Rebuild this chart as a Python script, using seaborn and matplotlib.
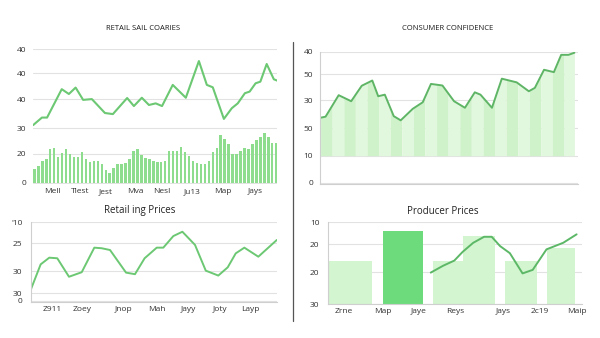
import numpy as np
import matplotlib
matplotlib.use("Agg")
import matplotlib.pyplot as plt
import seaborn as sns

# ---------------- data ----------------
# Panel 1: Retail sail coaries
p1_bars = [5.1, 6.5, 8.2, 9.0, 12.7, 13.2, 9.6, 11.1, 12.7, 10.7, 9.5, 9.6, 11.6, 9.1, 8.0, 8.3,
           8.2, 7.0, 4.9, 3.6, 5.7, 7.0, 7.1, 7.5, 9.1, 11.9, 12.7, 10.4, 9.3, 9.1, 8.2, 7.7,
           7.8, 8.1, 12.1, 12.1, 12.1, 13.6, 11.6, 10.1, 8.3, 7.3, 7.1, 7.1, 8.2, 11.4, 12.9,
           18.0, 16.3, 14.4, 10.7, 10.7, 12.1, 13.2, 12.6, 14.4, 16.0, 17.3, 18.8, 17.0, 14.8, 14.8]
p1_line_x = [-0.3, 1.9, 3.2, 6.9, 8.7, 10.4, 12.3, 14.5, 17.8, 19.8, 23.4, 25.1, 27.1, 28.9, 30.6,
             32.2, 34.9, 38.2, 41.5, 43.5, 45.0, 47.8, 49.8, 51.3, 53.1, 54.3, 55.8, 57.0, 58.6,
             60.4, 61.4]
p1_line_y = [21.6, 24.4, 24.4, 35.0, 33.2, 35.6, 31.0, 31.3, 26.1, 25.7, 31.7, 28.7, 31.8, 29.1,
             29.7, 28.7, 36.6, 31.8, 45.5, 36.6, 35.7, 23.9, 27.9, 29.7, 33.5, 34.1, 37.2, 37.8,
             44.4, 38.7, 38.1]
p1_yticks = [0, 10.8, 20.5, 31.3, 41.0, 50.0]
p1_ylabels = ["0", "20", "30", "40", "40", "40"]
p1_xticks = [4.5, 11.5, 18.1, 25.4, 32.2, 39.7, 47.5, 55.6]
p1_xlabels = ["Mell", "Tlest", "Jest", "Mva", "Nesl", "Ju13", "Map", "Jays"]

# Panel 2: Consumer confidence
p2_x = [0, 0.43, 1.56, 2.64, 3.55, 4.46, 4.97, 5.54, 6.31, 6.91, 7.95, 8.81, 9.52, 10.51,
        11.51, 12.45, 13.30, 13.79, 14.78, 15.63, 16.91, 17.96, 18.48, 19.27, 20.12, 20.75,
        21.38, 21.89]
p2_y = [2.48, 2.52, 3.34, 3.11, 3.70, 3.90, 3.30, 3.36, 2.54, 2.38, 2.82, 3.07, 3.77, 3.71,
        3.11, 2.86, 3.45, 3.36, 2.86, 3.97, 3.83, 3.49, 3.62, 4.31, 4.22, 4.88, 4.88, 4.96]
p2_base = 1.03
p2_yticks = [0, 1.03, 2.08, 3.14, 4.13, 5.0]
p2_ylabels = ["0", "10", "50", "30", "50", "40"]

# Panel 3: Retailing prices
p3_x = [0, 0.97, 1.81, 2.59, 3.73, 4.97, 6.2, 6.92, 7.73, 9.29, 10.16, 11.1, 12.28, 12.92,
        13.9, 14.78, 16.01, 17.06, 18.28, 19.2, 19.98, 20.82, 22.18, 23.98]
p3_y = [0.56, 1.86, 2.20, 2.17, 1.23, 1.46, 2.71, 2.68, 2.59, 1.44, 1.36, 2.17, 2.71, 2.71,
        3.30, 3.52, 2.85, 1.54, 1.29, 1.71, 2.42, 2.71, 2.25, 3.10]
p3_yticks = [0, 0.39, 1.52, 2.93, 4.0]
p3_ylabels = ["0", "30", "30", "25", "'10"]
p3_xticks = [2.05, 4.97, 9.09, 12.28, 15.33, 18.45, 21.44]
p3_xlabels = ["Z911", "Zoey", "Jnop", "Mah", "Jayy", "Joty", "Layp"]

# Panel 4: Producer prices
p4_bar_vals = [1.58, 2.69, 1.58, 2.51, 1.58, 2.07]
p4_line_x = [2.84, 3.18, 3.49, 3.72, 4.01, 4.31, 4.52, 4.75, 5.02, 5.37, 5.65, 6.03, 6.49, 6.86]
p4_line_y = [1.16, 1.41, 1.60, 1.92, 2.25, 2.47, 2.47, 2.13, 1.87, 1.13, 1.26, 2.01, 2.25, 2.56]
p4_yticks = [0, 1.18, 2.2, 3.0]
p4_ylabels = ["30", "20", "20", "10"]
p4_xticks = [0.43, 1.52, 2.50, 3.51, 4.84, 5.85, 6.86]
p4_xlabels = ["Zrne", "Map", "Jaye", "Reys", "Jays", "2c19", "Maip"]

# ---------------- layout / style ----------------
p4_bar_centers = [0.63, 2.07, 3.32, 4.17, 5.32, 6.42]
p4_bar_widths = [1.17, 1.10, 0.83, 0.87, 0.87, 0.78]
p4_bar_colors = ["#d3f5cf", "#6ddb7c", "#d3f5cf", "#d3f5cf", "#d3f5cf", "#d3f5cf"]

sns.set_theme(style="white")
plt.rcParams["font.family"] = ["Open Sans", "DejaVu Sans"]

W, H = 600, 338
fig = plt.figure(figsize=(W / 100, H / 100), dpi=100)
fig.patch.set_facecolor("white")


def rect(l, r, t, b):
    return [l / W, 1 - b / H, (r - l) / W, (b - t) / H]


GRID = "#e2e2e2"
TICK = "#333333"
FS = 6


def style(ax, left_spine=True, bottom_spine=True):
    for s in ["top", "right"]:
        ax.spines[s].set_visible(False)
    ax.spines["left"].set_visible(left_spine)
    ax.spines["bottom"].set_visible(bottom_spine)
    for s in ["left", "bottom"]:
        ax.spines[s].set_color("#cfcfcf")
        ax.spines[s].set_linewidth(0.8)
    ax.yaxis.grid(True, color=GRID, lw=0.8)
    ax.xaxis.grid(False)
    ax.set_axisbelow(True)
    ax.tick_params(axis="both", labelsize=FS, colors=TICK, length=0, pad=3)
    ax.set_xlabel("")
    ax.set_ylabel("")
    ax.set_facecolor("white")


# Panel 1
ax1 = fig.add_axes(rect(33, 277, 49, 184))
sns.barplot(x=np.arange(len(p1_bars)), y=p1_bars, native_scale=True, color="#8edc8e",
            saturation=1, width=0.62, linewidth=0, ax=ax1)
sns.lineplot(x=p1_line_x, y=p1_line_y, color="#6cc873", lw=1.5, ax=ax1)
ax1.set_xlim(-0.35, 61.2)
ax1.set_ylim(-0.4, 50)
style(ax1, left_spine=False, bottom_spine=False)
ax1.set_yticks(p1_yticks, p1_ylabels)
ax1.set_xticks(p1_xticks, p1_xlabels)
ax1.tick_params(axis="y", pad=5)
fig.text(143 / W, 1 - 29 / H, "RETAIL SAIL COARIES", ha="center", va="center",
         fontsize=5.5, color="#1a1a1a")

# Panel 2
ax2 = fig.add_axes(rect(320, 578, 51.7, 184))
xs = np.array(p2_x)
ys = np.array(p2_y)
n_str = int(np.ceil(xs.max()))
for i in range(n_str + 1):
    x0, x1 = i, min(i + 1, xs.max())
    if x1 <= x0:
        continue
    seg = np.concatenate([[x0], xs[(xs > x0) & (xs < x1)], [x1]])
    col = "#d0f2cb" if i % 2 == 0 else "#e2f8de"
    ax2.fill_between(seg, p2_base, np.interp(seg, xs, ys), color=col, lw=0)
sns.lineplot(x=p2_x, y=p2_y, color="#5fb566", lw=1.4, ax=ax2)
ax2.set_xlim(-0.05, 22.2)
ax2.set_ylim(-0.05, 5.0)
style(ax2)
ax2.set_yticks(p2_yticks, p2_ylabels)
ax2.set_xticks([])
ax2.tick_params(axis="y", pad=5)
fig.text(448 / W, 1 - 29 / H, "CONSUMER CONFIDENCE", ha="center", va="center",
         fontsize=5.5, color="#1a1a1a")

# Panel 3
ax3 = fig.add_axes(rect(30.7, 277, 222.3, 302.3))
sns.lineplot(x=p3_x, y=p3_y, color="#6cc873", lw=1.4, ax=ax3)
ax3.set_xlim(0, 24)
ax3.set_ylim(-0.07, 4.0)
style(ax3)
ax3.set_yticks(p3_yticks, p3_ylabels)
ax3.set_xticks(p3_xticks, p3_xlabels)
ax3.tick_params(axis="y", pad=6)
fig.text(140 / W, 1 - 211 / H, "Retail ing Prices", ha="center", va="center",
         fontsize=7, color="#222222")

# Panel 4
ax4 = fig.add_axes(rect(327.7, 581.7, 222.3, 304.3))
ax4.bar(p4_bar_centers, p4_bar_vals, width=p4_bar_widths, color=p4_bar_colors, lw=0)
sns.lineplot(x=p4_line_x, y=p4_line_y, color="#5cb866", lw=1.4, ax=ax4)
ax4.set_xlim(0, 7)
ax4.set_ylim(0, 3.0)
style(ax4)
ax4.set_yticks(p4_yticks, p4_ylabels)
ax4.set_xticks(p4_xticks, p4_xlabels)
ax4.tick_params(axis="y", pad=6)
fig.text(443 / W, 1 - 211 / H, "Producer Prices", ha="center", va="center",
         fontsize=7, color="#222222")

# divider
fig.add_artist(plt.Line2D([293 / W, 293 / W], [1 - 42 / H, 1 - 321 / H],
                          color="#555555", lw=0.9))

fig.savefig("out.png", dpi=100, facecolor="white")
